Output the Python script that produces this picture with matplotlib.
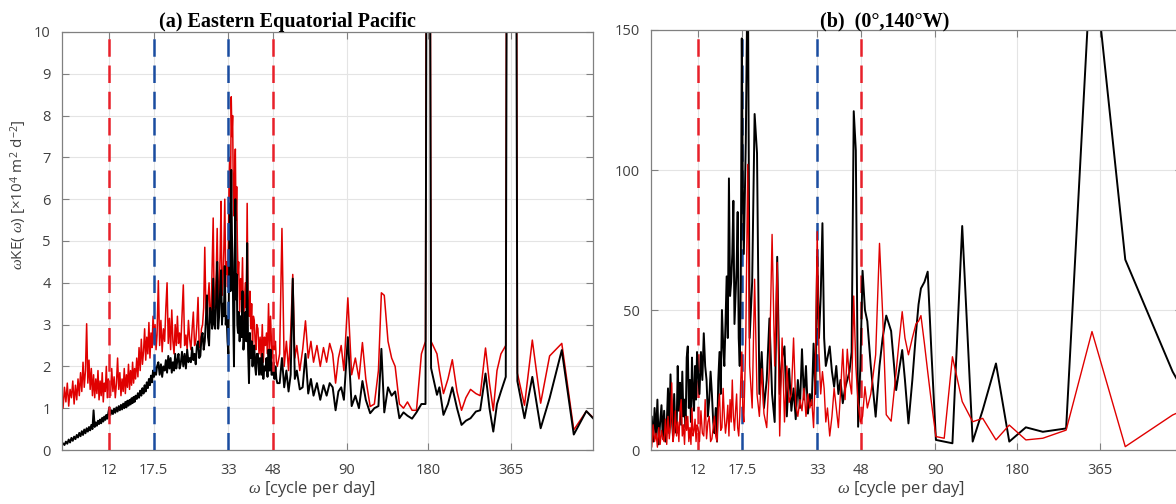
# KE spectra: Eastern Equatorial Pacific vs (0N,140W)
import matplotlib.pyplot as plt

plt.rcParams['font.family'] = ['Open Sans', 'DejaVu Sans']
plt.rcParams['mathtext.fontset'] = 'custom'
plt.rcParams['mathtext.rm'] = 'Open Sans'
plt.rcParams['mathtext.it'] = 'Liberation Serif:italic'

# ---- data ----
tick_days = [12, 17.5, 33, 48, 90, 180, 365]
tick_labels = ['12', '17.5', '33', '48', '90', '180', '365']
red_marks = [12, 48]
blue_marks = [17.5, 33]

# panel (a): period [days]
x_a = [8.0, 8.1, 8.2, 8.3, 8.4, 8.5, 8.6, 8.7, 8.8, 8.9,
       9.0, 9.1, 9.2, 9.3, 9.4, 9.5, 9.6, 9.7, 9.8, 9.9,
       10.0, 10.1, 10.2, 10.3, 10.4, 10.5, 10.6, 10.7, 10.8, 10.9,
       11.0, 11.1, 11.2, 11.3, 11.4, 11.5, 11.6, 11.7, 11.8, 11.9,
       12.0,
       12.125, 12.25, 12.375, 12.5, 12.625, 12.75, 12.875, 13.0, 13.125, 13.25,
       13.375, 13.5, 13.625, 13.75, 13.875, 14.0, 14.125, 14.25, 14.375, 14.5,
       14.625, 14.75, 14.875, 15.0,
       15.15, 15.3, 15.45, 15.6, 15.75, 15.9, 16.05, 16.2, 16.35, 16.5,
       16.65, 16.8, 16.95, 17.1, 17.25, 17.4, 17.55, 17.7, 17.85, 18.0,
       18.2, 18.4, 18.6, 18.8, 19.0, 19.2, 19.4, 19.6, 19.8, 20.0,
       20.2, 20.4, 20.6, 20.8, 21.0, 21.2, 21.4, 21.6, 21.8, 22.0,
       22.25, 22.5, 22.75, 23.0, 23.25, 23.5, 23.75, 24.0, 24.25, 24.5,
       24.75, 25.0, 25.25, 25.5, 25.75, 26.0, 26.25, 26.5, 26.75, 27.0,
       27.25, 27.5, 27.75, 28.0, 28.25, 28.5, 28.75, 29.0, 29.25, 29.5,
       29.75, 30.0, 30.25, 30.5, 30.75, 31.0, 31.25, 31.5, 31.75, 32.0,
       32.25, 32.5, 32.75, 33.0,
       33.2, 33.4, 33.6, 33.8, 34.0, 34.2, 34.4, 34.6, 34.8, 35.0,
       35.2, 35.4, 35.6, 35.8, 36.0,
       36.3, 36.6, 36.9, 37.2, 37.5, 37.8, 38.1, 38.4, 38.7, 39.0,
       39.3, 39.6, 39.9, 40.2, 40.5, 40.8, 41.1, 41.4, 41.7, 42.0,
       42.4, 42.8, 43.2, 43.6, 44.0, 44.4, 44.8, 45.2, 45.6, 46.0,
       46.4, 46.8, 47.2, 47.6, 48.0, 48.4, 48.8, 49.2, 49.6, 50.0,
       51.0, 52.0, 53.0, 54.0, 55.0, 56.0, 57.0, 58.0, 59.0, 60.5,
       62.0, 63.5, 65.0, 66.5, 68.0, 70.0, 72.0, 74.0, 76.0, 78.0,
       80.0, 82.0, 84.0, 86.0, 88.0, 91.0, 94.0, 97.0, 100.0, 103.0,
       106.0, 110.0, 114.0, 118.0, 121.0, 124.0, 128.0, 132.0, 136.0, 141.0,
       146.0, 151.0, 157.0, 163.0, 170.0, 176.0, 180.0, 184.5, 194.0, 198.0,
       205.0, 213.0, 221.0, 230.0, 239.0, 248.0, 258.0, 270.0, 280.0, 293.0,
       303.0, 313.0, 323.0, 334.0, 348.0, 365.0, 384.0, 408.0, 436.0, 468.0,
       505.0, 560.0, 620.0, 690.0, 735.0]

red_a = [1.35, 1.00, 1.50, 1.15, 1.60, 1.05, 1.45, 1.25, 1.65, 1.10,
         1.55, 1.20, 1.70, 1.30, 1.85, 1.40, 2.10, 1.50, 1.90, 3.02,
         1.60, 2.15, 1.45, 1.95, 1.30, 1.80, 1.25, 1.70, 1.35, 1.90,
         1.20, 1.65, 1.30, 1.85, 1.15, 1.60, 1.40, 2.00, 1.25, 1.70,
         1.45,
         1.30, 1.95, 1.40, 1.75, 1.25, 1.60, 2.20, 1.45, 1.85, 1.30,
         1.70, 1.40, 1.95, 1.35, 1.80, 1.50, 2.05, 1.45, 1.90, 1.55,
         2.10, 1.60, 1.95, 1.70,
         2.20, 1.75, 2.45, 1.90, 2.65, 2.05, 2.35, 2.90, 2.15, 2.70,
         2.30, 3.05, 2.20, 2.80, 2.45, 3.20, 2.55, 3.00, 2.40, 2.75,
         4.05, 2.50, 3.10, 2.35, 2.90, 2.60, 3.40, 4.00, 2.55, 3.15,
         2.40, 3.35, 2.60, 2.30, 3.00, 2.50, 3.20, 2.55, 2.80, 2.45,
         3.20, 3.95, 2.50, 2.75, 2.40, 3.10, 2.65, 2.40, 2.90, 3.30,
         2.50, 2.60, 3.00, 3.65, 2.45, 2.50, 2.90, 3.00, 3.40, 4.85,
         3.40, 3.00, 3.60, 4.00, 3.20, 3.30, 4.40, 5.55, 3.40, 3.60,
         4.20, 5.30, 3.50, 3.80, 4.60, 5.95, 3.70, 4.00, 4.80, 6.00,
         4.20, 4.50, 3.90, 5.00,
         6.50, 7.00, 6.00, 8.45, 7.50, 8.00, 6.20, 5.60, 6.60, 7.20,
         5.50, 6.30, 5.00, 4.20, 4.50,
         3.30, 4.10, 3.60, 4.60, 3.00, 3.50, 4.00, 3.40, 5.90, 3.40,
         3.20, 3.80, 2.90, 3.50, 2.50, 3.20, 3.10, 2.60, 2.40, 3.00,
         2.90, 2.30, 2.70, 2.20, 3.00, 2.10, 2.70, 2.50, 2.80, 2.30,
         3.50, 2.40, 3.20, 2.50, 2.20, 2.90, 2.40, 2.60, 2.10, 2.00,
         2.30, 5.30, 2.00, 2.60, 1.90, 2.80, 4.20, 2.20, 2.50, 1.90,
         2.40, 3.09, 2.20, 2.60, 2.10, 2.50, 2.00, 2.45, 2.10, 2.55,
         2.30, 1.60, 2.20, 2.50, 1.90, 3.64, 1.80, 2.20, 1.70, 2.57,
         1.70, 1.04, 1.10, 1.90, 3.76, 3.70, 2.60, 2.20, 2.00, 1.10,
         1.00, 1.15, 0.95, 0.95, 2.30, 2.60, 40.0, 2.60, 2.30, 1.90,
         1.35, 1.70, 2.16, 1.40, 0.95, 1.25, 1.45, 1.35, 1.30, 2.44,
         1.60, 0.94, 1.90, 2.30, 2.50, 80.0, 1.84, 1.07, 2.63, 1.12,
         2.25, 2.55, 0.48, 0.93, 0.76]

black_a = [0.10, 0.16, 0.12, 0.20, 0.15, 0.25, 0.18, 0.29, 0.22, 0.32,
           0.26, 0.36, 0.30, 0.41, 0.33, 0.45, 0.36, 0.49, 0.40, 0.52,
           0.44, 0.55, 0.47, 0.60, 0.50, 0.95, 0.55, 0.66, 0.58, 0.70,
           0.62, 0.73, 0.64, 0.77, 0.68, 0.80, 0.72, 0.84, 0.75, 0.88,
           1.02,
           0.84, 0.95, 0.86, 0.99, 0.89, 1.02, 0.92, 1.05, 0.95, 1.08,
           0.97, 1.11, 1.00, 1.15, 1.02, 1.18, 1.06, 1.20, 1.09, 1.24,
           1.12, 1.27, 1.15, 1.30,
           1.22, 1.36, 1.25, 1.42, 1.30, 1.48, 1.35, 1.55, 1.40, 1.62,
           1.48, 1.70, 1.55, 1.78, 1.62, 1.90, 1.75, 1.98, 1.80, 2.00,
           2.10, 1.80, 2.05, 1.75, 2.00, 1.90, 2.15, 1.85, 2.25, 1.95,
           2.20, 1.85, 2.10, 1.90, 2.30, 1.95, 2.15, 2.30, 1.95, 2.05,
           2.35, 2.00, 2.30, 1.95, 2.40, 2.10, 2.20, 2.10, 2.45, 2.15,
           2.30, 2.05, 2.50, 2.60, 2.20, 2.25, 2.70, 2.80, 2.40, 2.60,
           3.10, 3.70, 2.70, 2.50, 3.40, 3.20, 2.90, 4.10, 3.00, 2.90,
           3.60, 4.50, 2.90, 3.20, 3.80, 4.30, 3.00, 3.50, 3.20, 4.40,
           3.00, 3.20, 2.60, 2.30,
           4.50, 5.90, 3.80, 6.70, 5.20, 4.50, 3.00, 2.00, 4.20, 6.00,
           3.60, 4.20, 3.00, 2.80, 3.30,
           2.60, 3.20, 2.70, 3.80, 2.40, 2.80, 3.30, 2.60, 4.95, 2.40,
           1.60, 2.80, 2.20, 2.60, 2.00, 2.40, 2.50, 2.00, 1.80, 2.30,
           2.30, 1.80, 2.20, 1.80, 2.30, 1.70, 2.00, 1.90, 2.20, 1.75,
           2.40, 1.90, 2.40, 1.80, 1.80, 2.10, 1.70, 2.00, 1.70, 1.60,
           1.60, 2.20, 1.50, 1.90, 1.40, 1.80, 4.10, 1.70, 1.90, 1.45,
           1.50, 2.30, 1.35, 1.70, 1.30, 1.60, 1.20, 1.55, 1.30, 1.60,
           1.50, 0.95, 1.40, 1.50, 1.20, 2.70, 1.05, 1.30, 1.00, 1.65,
           1.20, 0.88, 1.00, 1.05, 2.42, 0.90, 1.50, 1.30, 1.40, 0.76,
           0.90, 0.82, 0.75, 0.90, 1.10, 1.10, 30.0, 1.96, 1.32, 1.50,
           0.84, 1.10, 1.50, 1.00, 0.60, 0.70, 0.76, 0.92, 0.95, 1.83,
           1.00, 0.44, 1.10, 1.40, 1.75, 60.0, 1.65, 0.76, 1.75, 0.52,
           1.24, 2.39, 0.37, 0.93, 0.74]

# panel (b): period [days]
x_b = [8.0, 8.1, 8.2, 8.3, 8.4, 8.5, 8.6, 8.7, 8.8, 8.9,
       9.0, 9.1, 9.2, 9.3, 9.4, 9.5, 9.6, 9.7, 9.8, 9.9,
       10.0, 10.1, 10.2, 10.3, 10.4, 10.5, 10.6, 10.7, 10.8, 10.9,
       11.0, 11.1, 11.2, 11.3, 11.4, 11.5, 11.6, 11.7, 11.8, 11.9,
       12.0,
       12.15, 12.3, 12.45, 12.6, 12.75, 12.9, 13.05, 13.2, 13.35, 13.5,
       13.65, 13.8, 13.95, 14.1, 14.25, 14.4, 14.55, 14.7, 14.85, 15.0,
       15.15, 15.3, 15.45, 15.6, 15.75, 15.9, 16.05, 16.2, 16.35, 16.5,
       16.65, 16.8, 16.95, 17.1, 17.25, 17.4, 17.55, 17.7,
       18.0, 18.3, 18.6, 19.0, 19.4, 19.8, 20.2, 20.6, 21.0, 21.5,
       22.0, 22.5, 23.0, 23.5, 24.0, 24.5, 25.0, 25.5, 26.0, 26.5,
       27.0, 27.5, 28.0, 28.5, 29.0, 29.5, 30.0, 30.5, 31.0, 31.5,
       32.0, 32.5, 33.0, 33.5, 34.0, 34.5, 35.0, 35.5, 36.0, 36.7,
       37.4, 38.1, 38.8, 39.5, 40.2, 41.0, 41.8, 42.6, 43.4, 44.2,
       45.0, 45.8, 46.7, 47.6, 48.5, 49.5, 50.5, 52.0, 54.2, 56.0,
       57.5, 59.3, 61.8, 64.5, 66.0, 67.9, 69.5, 71.6, 74.0, 76.3,
       78.0, 79.6, 82.0, 84.3, 87.0, 90.4, 97.0, 104.0, 113.0, 123.5,
       134.5, 150.5, 168.5, 194.0, 224.0, 273.0, 340.0, 451.0, 674.0, 730.0]

black_b = [7, 12, 3, 15, 5, 18, 2, 10, 16, 4,
           14, 3, 9, 22, 6, 27, 12, 5, 20, 8,
           6, 30, 14, 24, 9, 28, 12, 18, 8, 33,
           37, 15, 25, 10, 33, 20, 14, 30, 18, 35,
           28,
           20, 35, 25, 41.7, 30, 25, 12, 18, 28, 20,
           10, 6, 15, 3, 25, 35, 20, 50, 38, 30,
           45, 62, 40, 97, 55, 60, 70, 89, 45, 55,
           65, 85, 40, 30, 60, 147, 95, 70,
           110, 180, 40, 60, 120, 106, 20, 35, 15, 25,
           47, 20, 10, 69, 20, 33, 37, 12, 29, 14,
           22, 11, 25, 15, 36, 18, 30, 13, 20, 16,
           38, 20, 69, 40, 55, 81, 40, 30, 33, 37,
           28, 22.6, 30, 20, 25, 16.7, 22, 25, 28, 35,
           121, 107, 8.3, 30, 64, 50, 46, 30, 11.9, 30,
           40, 48, 42.5, 21.4, 28, 35.7, 25, 9.5, 25, 41.7,
           52, 57.7, 60, 63.7, 35, 3.6, 3.0, 2.4, 80, 3.0,
           14.3, 30.9, 3.0, 8.1, 6.5, 7.7, 181, 68, 28, 22]

red_b = [5, 1, 9, 3, 6, 1, 8, 2, 7, 4,
         3, 11, 2, 12, 4, 9, 24, 3, 6, 14,
         5, 10, 3, 14, 18, 5, 9, 2, 12, 7,
         12, 3, 8, 2, 15, 5, 7, 11, 3, 9,
         8,
         3, 14, 6, 5, 18, 4, 10, 12, 3, 4,
         8, 12, 5, 3, 15, 20, 7, 8, 22, 12,
         6, 10, 16, 5, 18, 10, 25, 12, 7, 14,
         20, 8, 5, 12, 25, 35, 15, 10,
         40, 102, 30, 15, 61, 20, 12, 29, 13, 8,
         30, 77, 30, 67, 5, 40, 10, 30, 17, 20,
         40, 16, 12, 18, 14, 22, 12, 20, 15, 18,
         8, 30, 78, 35, 20, 28, 22, 10, 15, 5,
         12, 22, 15, 8, 20, 36, 18, 36, 25, 20,
         55, 30, 16.7, 10, 12, 22.6, 15, 20, 34, 73.8,
         48.8, 12.6, 10.3, 28, 38, 49.4, 40, 34, 40, 45,
         46, 48, 38, 28, 17, 4.8, 4.2, 33.3, 17.3, 10.1,
         11.3, 3.6, 8.9, 3.6, 4.2, 7.1, 42.3, 1.2, 12.5, 14]

# ---- figure ----
W, H = 1176, 504
fig = plt.figure(figsize=(W / 100, H / 100), dpi=100)
ax1 = fig.add_axes([62 / W, 54 / H, 531 / W, 418 / H])
ax2 = fig.add_axes([650.7 / W, 54 / H, 531.3 / W, 420 / H])  # runs just past the right edge

line_red = '#e00000'
dash_red = '#e8202a'
dash_blue = '#1a4ca0'
dash_style = (0, (7, 3.5))


def style_axes(ax, yticks):
    ax.set_xscale('log')
    ax.minorticks_off()
    ax.set_xlim(8.03, 730)
    ax.set_xticks(tick_days, tick_labels)
    ax.set_yticks(yticks)
    ax.set_ylim(yticks[0], yticks[-1])
    ax.grid(True, color='#e4e4e4', lw=0.8)
    ax.set_axisbelow(True)
    ax.tick_params(direction='in', top=True, right=True, length=5,
                   color='#808080', labelcolor='#404040', labelsize=10.5)
    ax.tick_params(axis='x', pad=9)
    ax.tick_params(axis='y', pad=8)
    for s in ax.spines.values():
        s.set_color('#808080')
        s.set_linewidth(0.9)


# (a) Eastern Equatorial Pacific
style_axes(ax1, list(range(0, 11)))
ax1.plot(x_a, red_a, color=line_red, lw=1.1, zorder=2)
ax1.plot(x_a, black_a, color='black', lw=1.4, zorder=2.1)
for d in red_marks:
    ax1.axvline(d, color=dash_red, lw=1.8, ls=dash_style, zorder=3)
for d in blue_marks:
    ax1.axvline(d, color=dash_blue, lw=1.8, ls=dash_style, zorder=3)

# (b) (0N,140W)
style_axes(ax2, [0, 50, 100, 150])
for d in red_marks:
    ax2.axvline(d, color=dash_red, lw=1.8, ls=dash_style, zorder=1.5)
for d in blue_marks:
    ax2.axvline(d, color=dash_blue, lw=1.8, ls=dash_style, zorder=1.5)
ax2.plot(x_b, black_b, color='black', lw=1.4, zorder=2)
ax2.plot(x_b, red_b, color=line_red, lw=1.0, zorder=2.1)

# titles and labels
title_kw = dict(ha='center', va='baseline', family='Liberation Serif',
                weight='bold', size=14.5)
fig.text(287 / W, 1 - 26.5 / H, '(a) Eastern Equatorial Pacific', **title_kw)
fig.text(884.5 / W, 1 - 26.5 / H, '(b)  (0°,140°W)', **title_kw)

ylab = (r'$\omega$KE( $\omega$) [×10$^\mathregular{4}$ m$^\mathregular{2}$'
        r' d$^\mathregular{-2}$]')
fig.text(19 / W, 1 - 195 / H, ylab, rotation=90, ha='center', va='center',
         size=11, color='#404040')
xlab = r'$\omega$ [cycle per day]'
fig.text(312.5 / W, 15 / H, xlab, ha='center', va='center', size=12, color='#404040')
fig.text(901 / W, 15 / H, xlab, ha='center', va='center', size=12, color='#404040')

fig.savefig('out.png', dpi=100)
